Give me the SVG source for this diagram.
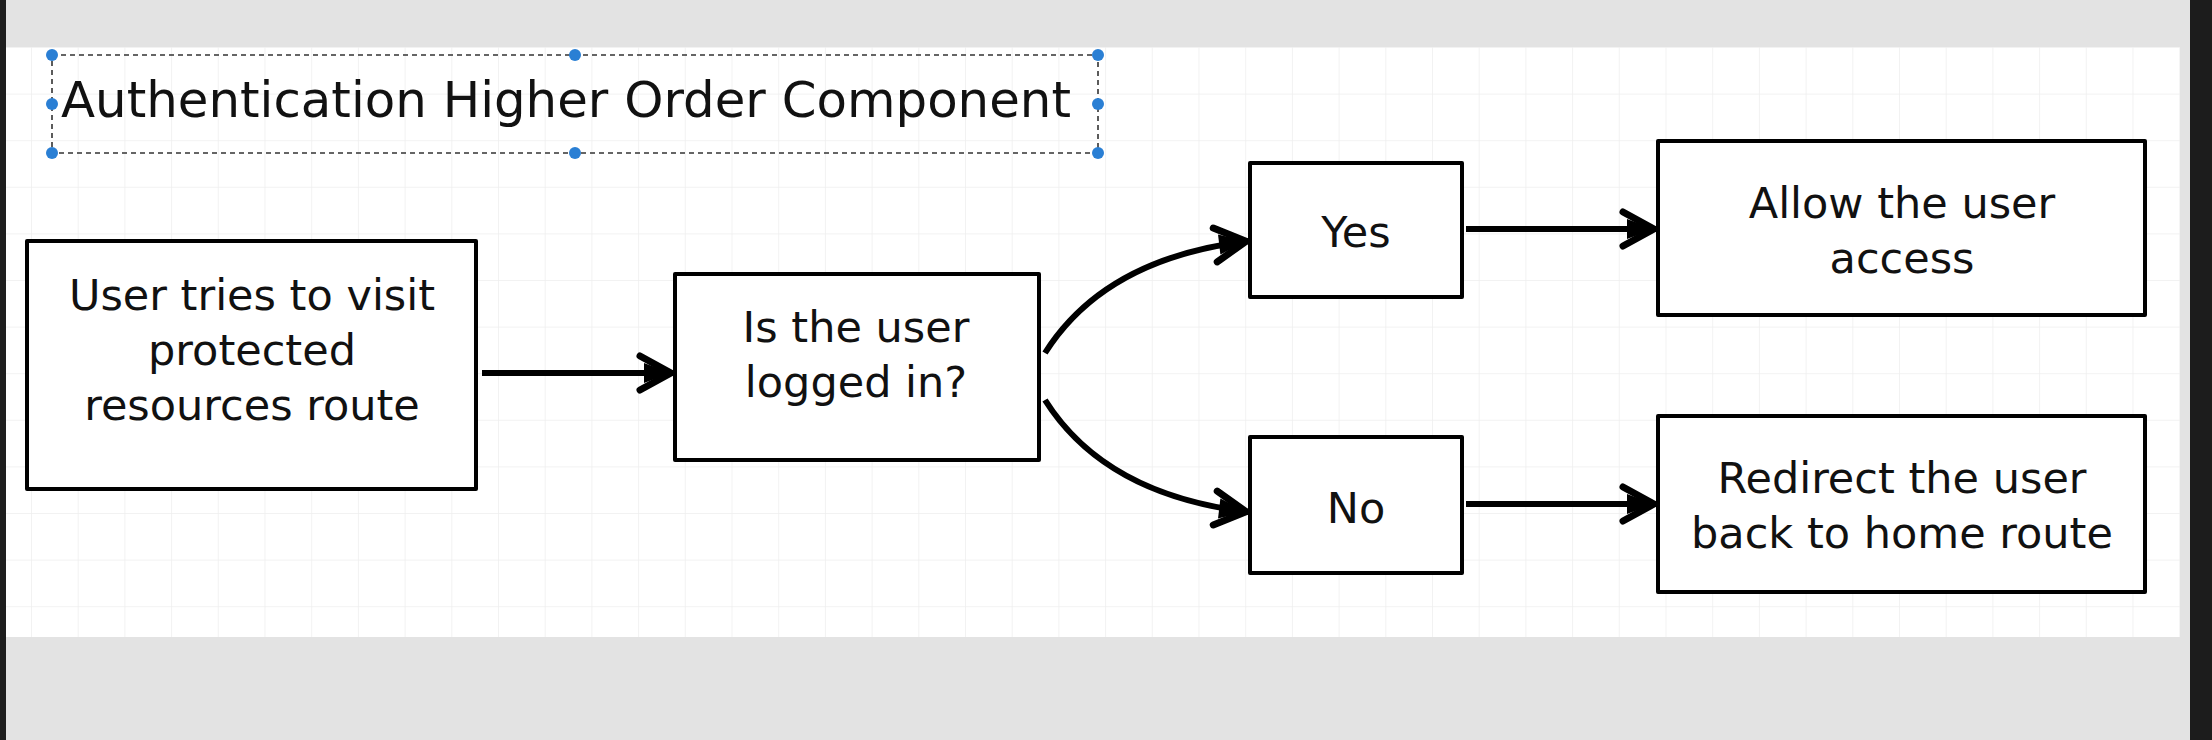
<svg xmlns="http://www.w3.org/2000/svg" width="2212" height="740" viewBox="0 0 2212 740">
  <defs>
    <pattern id="grid" x="31" y="47" width="46.7" height="46.6" patternUnits="userSpaceOnUse">
      <path d="M0,0 V46.6 M0,0 H46.7" fill="none" stroke="#eeeeee" stroke-width="1.5"/>
    </pattern>
    <marker id="arrow" markerUnits="userSpaceOnUse" markerWidth="46" markerHeight="46" viewBox="0 0 46 46" refX="43" refY="23" orient="auto">
      <path d="M13,13 L40,23 L13,33 Z" fill="#000"/>
      <path d="M9,6 L40,23 L9,40" fill="none" stroke="#000" stroke-width="7" stroke-linejoin="round" stroke-linecap="round"/>
    </marker>
    <style>
      .box { fill: #ffffff; stroke: #000000; stroke-width: 4; stroke-linejoin: round; }
      .lbl { font-family: "DejaVu Sans", "Liberation Sans", sans-serif; font-size: 43px; fill: #111111; text-anchor: middle; }
      .title { font-family: "DejaVu Sans", "Liberation Sans", sans-serif; font-size: 49px; fill: #111111; }
      .conn { fill: none; stroke: #000000; stroke-width: 6; stroke-linecap: butt; marker-end: url(#arrow); }
      .sel { fill: none; stroke: #333333; stroke-width: 1.6; stroke-dasharray: 5 4; }
      .handle { fill: #2a7fd4; }
    </style>
  </defs>

  <!-- background / app chrome -->
  <rect x="0" y="0" width="2212" height="740" fill="#e3e3e3"/>
  <rect x="0" y="0" width="6" height="740" fill="#1e1e1e"/>
  <rect x="2190" y="0" width="22" height="740" fill="#1c1c1c"/>
  <rect x="6" y="47" width="2174" height="590" fill="#ffffff"/>
  <rect x="6" y="47" width="2174" height="590" fill="url(#grid)"/>

  <!-- title with selection frame -->
  <g id="title">
    <rect class="sel" x="52" y="55" width="1046" height="98"/>
    <text class="title" x="61" y="117" textLength="1010" lengthAdjust="spacingAndGlyphs">Authentication Higher Order Component</text>
    <circle class="handle" cx="52" cy="55" r="6"/>
    <circle class="handle" cx="575" cy="55" r="6"/>
    <circle class="handle" cx="1098" cy="55" r="6"/>
    <circle class="handle" cx="52" cy="104" r="6"/>
    <circle class="handle" cx="1098" cy="104" r="6"/>
    <circle class="handle" cx="52" cy="153" r="6"/>
    <circle class="handle" cx="575" cy="153" r="6"/>
    <circle class="handle" cx="1098" cy="153" r="6"/>
  </g>

  <!-- connectors -->
  <g id="connectors">
    <path class="conn" d="M482,373 H674"/>
    <path class="conn" d="M1045,353 Q1105,258 1249,241"/>
    <path class="conn" d="M1045,400 Q1105,495 1249,512"/>
    <path class="conn" d="M1466,229 H1657"/>
    <path class="conn" d="M1466,504 H1657"/>
  </g>

  <!-- nodes -->
  <g id="node-visit">
    <rect class="box" x="27" y="241" width="449" height="248"/>
    <text class="lbl" x="252" y="310">User tries to visit</text>
    <text class="lbl" x="252" y="365">protected</text>
    <text class="lbl" x="252" y="420">resources route</text>
  </g>

  <g id="node-logged-in">
    <rect class="box" x="675" y="274" width="364" height="186"/>
    <text class="lbl" x="856" y="342">Is the user</text>
    <text class="lbl" x="856" y="397">logged in?</text>
  </g>

  <g id="node-yes">
    <rect class="box" x="1250" y="163" width="212" height="134"/>
    <text class="lbl" x="1356" y="247">Yes</text>
  </g>

  <g id="node-no">
    <rect class="box" x="1250" y="437" width="212" height="136"/>
    <text class="lbl" x="1356" y="523">No</text>
  </g>

  <g id="node-allow">
    <rect class="box" x="1658" y="141" width="487" height="174"/>
    <text class="lbl" x="1902" y="218">Allow the user</text>
    <text class="lbl" x="1902" y="273">access</text>
  </g>

  <g id="node-redirect">
    <rect class="box" x="1658" y="416" width="487" height="176"/>
    <text class="lbl" x="1902" y="493">Redirect the user</text>
    <text class="lbl" x="1902" y="548">back to home route</text>
  </g>
</svg>
